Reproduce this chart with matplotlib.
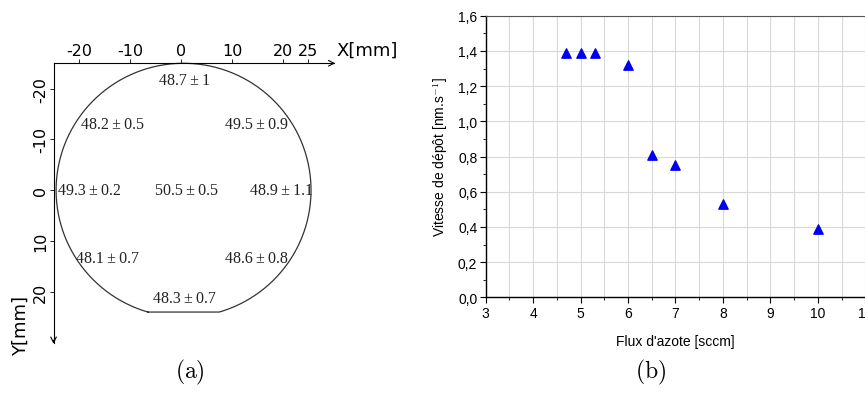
import matplotlib
matplotlib.use("Agg")
import matplotlib.pyplot as plt
import numpy as np
from matplotlib.ticker import MultipleLocator, FuncFormatter

plt.rcParams["mathtext.fontset"] = "cm"
plt.rcParams["axes.unicode_minus"] = False

# --- data ---
# (a) thickness map on the wafer: position (mm) and value ± error
map_x = [0.6, -13.5, 14.9, -18.0, 1.0, 19.8, -14.5, 14.7, 0.6]
map_y = [-21.8, -13.0, -13.0, 0.0, 0.0, 0.0, 13.4, 13.4, 21.3]
map_labels = ["48.7\u2009±\u20091", "48.2\u2009±\u20090.5", "49.5\u2009±\u20090.9",
              "49.3\u2009±\u20090.2", "50.5\u2009±\u20090.5", "48.9\u2009±\u20091.1",
              "48.1\u2009±\u20090.7", "48.6\u2009±\u20090.8", "48.3\u2009±\u20090.7"]
map_xticks = [-20, -10, 0, 10, 20, 25]
map_yticks = [-20, -10, 0, 10, 20]

# (b) deposition rate vs nitrogen flow
flux = [4.7, 5.0, 5.3, 6.0, 6.5, 7.0, 8.0, 10.0]
vitesse = [1.39, 1.39, 1.39, 1.32, 0.81, 0.75, 0.53, 0.39]

fig = plt.figure(figsize=(8.65, 4.14), dpi=100)

# ---------- (a) ----------
ax1 = fig.add_axes([0.056, 0.158, 0.336, 0.699])
ax1.set_xlim(-26, 31)
ax1.set_ylim(31, -26)

# wafer outline: circle with a flat at the bottom (y axis points down)
cx, cy, r, flat = 0.5, 0.0, 25.0, 24.0
p0 = np.arcsin(flat / r)
t = np.linspace(np.pi - p0, 2 * np.pi + p0, 500)
xs = np.append(cx + r * np.cos(t), cx + r * np.cos(np.pi - p0))
ys = np.append(cy + r * np.sin(t), cy + r * np.sin(np.pi - p0))
ax1.plot(xs, ys, color="#333333", lw=0.9)

for x, y, s in zip(map_x, map_y, map_labels):
    ax1.text(x, y, s, ha="center", va="center", fontsize=11.5,
             family="Liberation Serif", color="#222222")

for side in ["right", "bottom"]:
    ax1.spines[side].set_visible(False)
ax1.spines["top"].set_position(("data", -25))
ax1.spines["left"].set_position(("data", -25))
ax1.spines["top"].set_bounds(-25, 30)
ax1.spines["left"].set_bounds(-25, 30)
ax1.spines["top"].set_linewidth(0.8)
ax1.spines["left"].set_linewidth(0.8)
ax1.annotate("", xy=(30.8, -25), xytext=(29, -25),
             arrowprops=dict(arrowstyle="->", lw=0.8, color="black"))
ax1.annotate("", xy=(-25, 30.8), xytext=(-25, 29),
             arrowprops=dict(arrowstyle="->", lw=0.8, color="black"))

ax1.xaxis.tick_top()
ax1.set_xticks(map_xticks)
ax1.set_yticks(map_yticks)
ax1.tick_params(axis="x", direction="out", length=3, width=0.6, labelsize=11.5, pad=1)
ax1.tick_params(axis="y", direction="out", length=3, width=0.6, labelsize=11.5,
                pad=1, labelrotation=90)
for lab in ax1.get_yticklabels():
    lab.set_va("center")
ax1.text(30.5, -25.8, "X[mm]", fontsize=13, ha="left", va="bottom")
ax1.text(-31.5, 26.5, "Y[mm]", fontsize=13, rotation=90, ha="center", va="center",
         clip_on=False)

fig.text(0.22, 0.10, r"$\mathrm{(a)}$", fontsize=17, ha="center", va="center")

# ---------- (b) ----------
ax2 = fig.add_axes([0.5615, 0.2795, 0.4388, 0.680])
ax2.scatter(flux, vitesse, marker="^", s=45, color="#0000ee", zorder=3)
ax2.set_xlim(3, 11)
ax2.set_ylim(0, 1.6)
ax2.xaxis.set_major_locator(MultipleLocator(1))
ax2.xaxis.set_minor_locator(MultipleLocator(0.5))
ax2.yaxis.set_major_locator(MultipleLocator(0.2))
ax2.yaxis.set_minor_locator(MultipleLocator(0.1))
ax2.yaxis.set_major_formatter(FuncFormatter(lambda v, p: f"{v:.1f}".replace(".", ",")))
ax2.xaxis.set_major_formatter(FuncFormatter(lambda v, p: f"{v:.0f}"))
ax2.grid(which="major", color="#d8d8d8", lw=0.8)
ax2.grid(which="minor", axis="x", color="#d8d8d8", lw=0.8)
ax2.set_axisbelow(True)
ax2.tick_params(which="major", direction="out", length=4, width=0.8, labelsize=10,
                pad=2)
ax2.tick_params(which="minor", direction="out", length=2.5, width=0.6)
for lab in ax2.get_xticklabels() + ax2.get_yticklabels():
    lab.set_family("Liberation Sans")
ax2.spines["right"].set_visible(False)
ax2.spines["top"].set_color("#555555")
ax2.spines["bottom"].set_linewidth(1.0)
ax2.spines["left"].set_linewidth(1.0)
ax2.set_xlabel("Flux d'azote [sccm]", family="Liberation Sans", fontsize=10, labelpad=10)
ax2.set_ylabel("Vitesse de dépôt [nm.s$^{\\mathsf{-1}}$]", family="Liberation Sans",
               fontsize=10, labelpad=6)

fig.text(0.752, 0.10, r"$\mathrm{(b)}$", fontsize=17, ha="center", va="center")

fig.savefig("out.png", dpi=100)
